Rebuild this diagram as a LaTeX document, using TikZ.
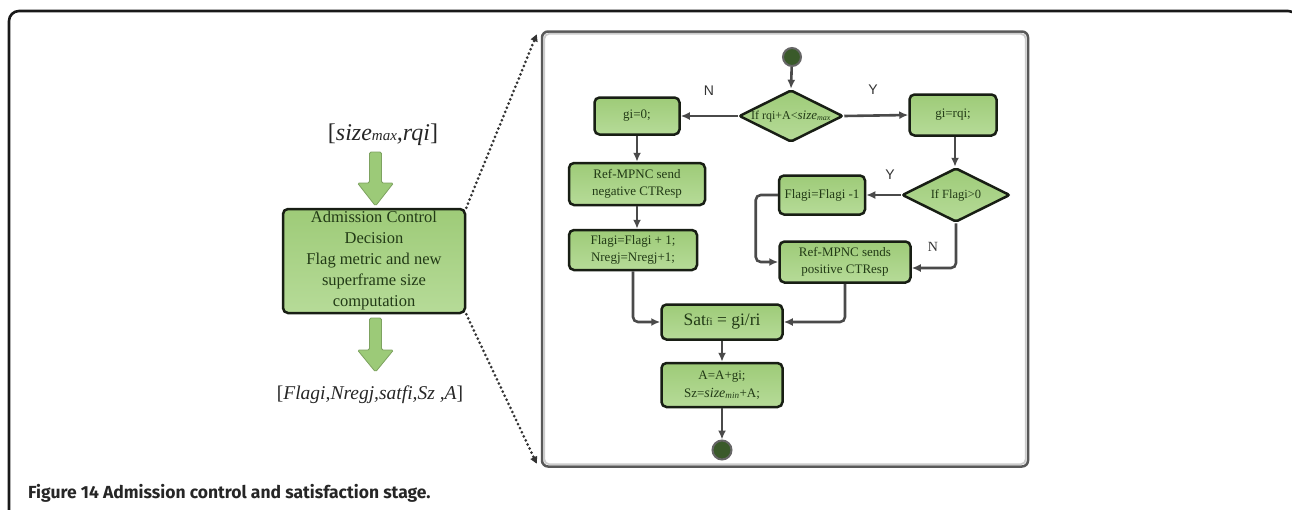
\documentclass[tikz,border=0pt]{standalone}
\usepackage{fontspec}
\setmainfont{Liberation Serif}
\newfontfamily\capfont{Fira Sans}
\newfontfamily\lblfont{Liberation Sans}
\usetikzlibrary{shapes.geometric,arrows.meta,calc}
\definecolor{boxgreen}{RGB}{158,203,120}
\definecolor{boxgreenlt}{RGB}{182,219,152}
\definecolor{edgedark}{RGB}{24,30,20}
\definecolor{txtgreen}{RGB}{34,58,22}
\definecolor{connc}{RGB}{74,74,74}
\definecolor{bigarrowc}{RGB}{156,202,120}
\definecolor{dotgreen}{RGB}{58,90,42}
\begin{document}
\begin{tikzpicture}[x=1pt,y=-1pt,
  fbox/.style={rectangle, rounded corners=5pt, draw=edgedark, line width=2.5pt,
    top color=boxgreen, bottom color=boxgreenlt, text=txtgreen, align=center,
    inner sep=1pt, font=\fontsize{13}{17.5}\selectfont},
  fdia/.style={diamond, aspect=2, rounded corners=2pt, draw=edgedark, line width=2.5pt,
    top color=boxgreen, bottom color=boxgreenlt, text=txtgreen, align=center,
    inner sep=0pt, font=\fontsize{12}{14}\selectfont},
  dotnode/.style={circle, fill=dotgreen, draw=black!60, line width=2pt, minimum size=18pt, inner sep=0pt},
  connline/.style={draw=connc, line width=2.6pt, rounded corners=5pt, -{Latex[length=9pt,width=8pt]}},
  dotline/.style={draw=black!80, line width=3pt, dash pattern=on 0pt off 4.5pt, line cap=round,
    -{Triangle[length=7pt,width=7pt]}},
  yn/.style={font=\lblfont\fontsize{14}{14}\selectfont, text=black!80},
  bigarr/.style={fill=bigarrowc, draw=bigarrowc!80!black, line width=0.8pt, rounded corners=1.5pt}
]
\useasboundingbox (0,0) rectangle (1292,509);
% outer frame
\draw[draw=black!90, line width=2.6pt, rounded corners=10pt] (9,520) -- (9,11) -- (1298,11) -- (1298,520);
% caption
\node[anchor=base west, inner sep=0pt, text=black!85] (cap) at (28,498)
  {\capfont\bfseries\fontsize{17.5}{20}\selectfont Figure 14 Admission control and satisfaction stage.};

% left part
\node[inner sep=0pt, text=black!85] (tin) at (383,135)
  {\fontsize{24}{24}\selectfont [\textit{size}{\fontsize{15}{15}\selectfont\itshape max}\textit{,rqi}]};
\node[fbox, minimum width=182pt, minimum height=104pt, font=\fontsize{16.5}{21}\selectfont] (adm) at (374,261)
  {Admission Control\\Decision\\Flag metric and new\\superframe size\\computation};
\node[inner sep=0pt, text=black!85] (tout) at (370,395)
  {\fontsize{19.5}{19.5}\selectfont [\textit{Flagi,Nregj,satfi,Sz ,A}]};
\draw[bigarr] (369.5,152) -- (381.5,152) -- (381.5,183) -- (393.5,183) -- (375.5,206) -- (357.5,183) -- (369.5,183) -- cycle;
\draw[bigarr] (369.5,318) -- (381.5,318) -- (381.5,350) -- (393.5,350) -- (375.5,372) -- (357.5,350) -- (369.5,350) -- cycle;

% panel
\node[draw=black!65, line width=2.5pt, rounded corners=6pt, minimum width=486pt, minimum height=435pt,
  inner sep=0pt, fill=white] (panel) at (785,249) {};
\draw[black!20, line width=1.8pt, rounded corners=5pt] ($(panel.north west)+(3.5,3.5)$) rectangle ($(panel.south east)+(-3.5,-3.5)$);
\draw[dotline] (adm.north east) -- ($(panel.north west)+(-4,4)$);
\draw[dotline] (adm.south east) -- ($(panel.south west)+(-4,-4)$);

% flowchart
\node[dotnode] (st) at (792,57) {};
\node[fdia, minimum width=104pt, minimum height=52pt] (d1) at (791,116)
  {If rqi+A<{\fontsize{13}{13}\selectfont\itshape size}\textsubscript{\itshape max}};
\node[fbox, minimum width=85pt, minimum height=37pt] (g0) at (637,116) {gi=0;};
\node[fbox, minimum width=87pt, minimum height=41pt] (grqi) at (953,115) {gi=rqi;};
\node[fbox, minimum width=136pt, minimum height=42pt] (neg) at (637,184) {Ref-MPNC send\\negative CTResp};
\node[fbox, minimum width=128pt, minimum height=40pt] (fp1) at (633,250) {Flagi=Flagi + 1;\\Nregj=Nregj+1;};
\node[fdia, minimum width=108pt, minimum height=54pt, font=\fontsize{12.5}{14}\selectfont] (d2) at (956,195) {If Flagi>0};
\node[fbox, minimum width=86pt, minimum height=39pt] (fm1) at (822,195) {Flagi=Flagi -1};
\node[fbox, minimum width=131pt, minimum height=41pt] (pos) at (845,262) {Ref-MPNC sends\\positive CTResp};
\node[fbox, minimum width=121pt, minimum height=35pt, font=\fontsize{17.5}{17.5}\selectfont] (sat) at (722,322)
  {Sat{\fontsize{11}{11}\selectfont fi} = gi/ri};
\node[fbox, minimum width=121pt, minimum height=44pt] (asz) at (722,385)
  {A=A+gi;\\Sz={\fontsize{14}{14}\selectfont\itshape size}\textsubscript{\itshape min}+A;};
\node[dotnode, minimum size=19pt] (en) at (722,450) {};

\node[yn] (lN1) at (709,91) {N};
\node[yn] (lY1) at (873,90) {Y};
\node[yn] (lY2) at (890,175) {Y};
\node[font=\fontsize{14}{14}\selectfont, text=black!80] (lN2) at (933,247) {N};

\draw[connline] (st) -- (d1.north);
\draw[connline] (d1.west) -- (g0.east);
\draw[connline] (d1.east) -- (grqi.west);
\draw[connline] (g0.south) -- (neg.north);
\draw[connline] (neg.south) -- (neg.south |- fp1.north);
\draw[connline] ([xshift=2pt]grqi.south) -- ([xshift=2pt]grqi.south |- d2.north);
\draw[connline] (d2.west) -- (fm1.east);
\draw[connline] (fm1.west) -- ++(-22,0) |- (pos.west);
\draw[connline] (d2.south) |- ([yshift=-6pt]pos.east);
\draw[connline] (fp1.south) |- (sat.west);
\draw[connline] (pos.south) |- (sat.east);
\draw[connline] (sat.south) -- (asz.north);
\draw[connline] (asz.south) -- (en.north);
\end{tikzpicture}
\end{document}
